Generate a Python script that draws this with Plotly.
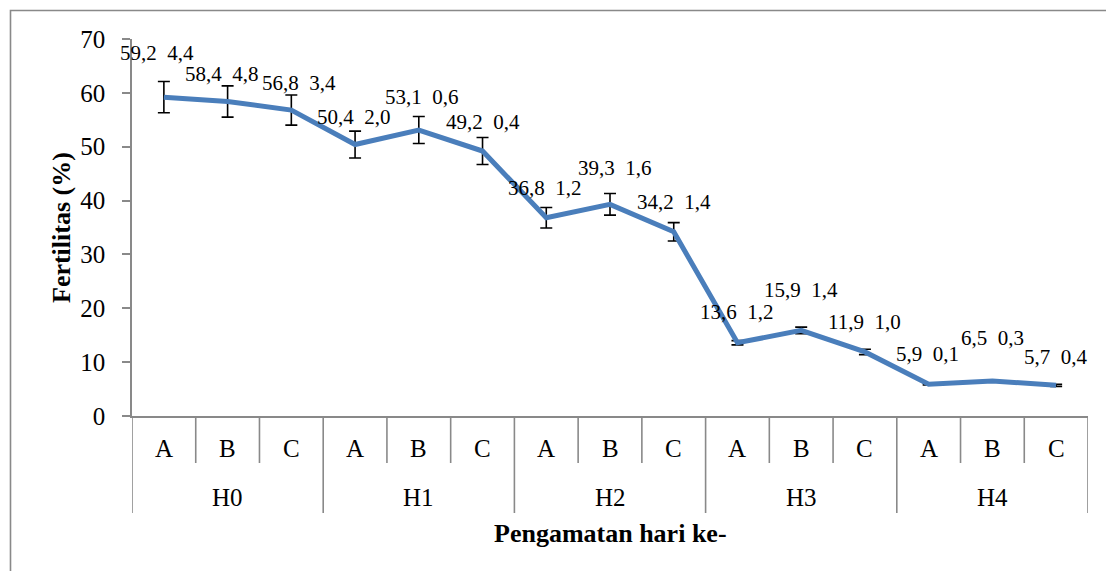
import plotly.graph_objects as go

# ---- data ----
groups = ["H0", "H1", "H2", "H3", "H4"]
subcats = ["A", "B", "C"]
fertilitas = [59.2, 58.4, 56.8, 50.4, 53.1, 49.2, 36.8, 39.3, 34.2, 13.6, 15.9, 11.9, 5.9, 6.5, 5.7]
sd_labels = [4.4, 4.8, 3.4, 2.0, 0.6, 0.4, 1.2, 1.6, 1.4, 1.2, 1.4, 1.0, 0.1, 0.3, 0.4]
err_drawn = [2.9, 2.9, 2.8, 2.5, 2.5, 2.5, 1.9, 2.0, 1.7, 0.4, 0.6, 0.5, 0.15, 0.2, 0.2]

# label offsets (pixels) relative to each point
lab_dx = [-7, -6, 8, -1, 3, 0, -1, 5, 0, 0, 0, 0, -1, 0, 0]
lab_dy = [44, 27, 27, 28, 33, 29, 30, 36, 30, 31, 40, 30, 30, 43, 28]

FONT = "Liberation Serif, Times New Roman, serif"
GRAY = "#898989"
BLUE = "#4A7EBB"

n = len(fertilitas)
xs = list(range(n))

fig = go.Figure()
fig.add_trace(go.Scatter(
    x=xs, y=fertilitas, mode="lines",
    line=dict(color=BLUE, width=5),
    error_y=dict(type="data", array=err_drawn, visible=True,
                 color="black", thickness=1.6, width=6),
    showlegend=False, hoverinfo="skip",
))

def fmt(v):
    return f"{v:.1f}".replace(".", ",")

annotations = []
for i in range(n):
    annotations.append(dict(
        x=xs[i], y=fertilitas[i], xref="x", yref="y",
        text=fmt(fertilitas[i]) + "\u00a0\u00a0" + fmt(sd_labels[i]),
        showarrow=False, xshift=lab_dx[i], yshift=lab_dy[i],
        font=dict(family=FONT, size=21, color="black"),
        xanchor="center", yanchor="middle",
    ))

# plot area geometry (window pixels): top 39, bottom 416, left 132, right 1088
PH = 416 - 39
PW = 1088 - 132
def py(pix):
    return (416 - pix) / PH

shapes = []
sub_labels = [subcats[i % 3] for i in range(n)]
for i in range(n):
    annotations.append(dict(
        x=xs[i], y=py(448), xref="x", yref="paper", text=sub_labels[i],
        showarrow=False, font=dict(family=FONT, size=25, color="black"),
        xanchor="center", yanchor="middle",
    ))
for g, name in enumerate(groups):
    annotations.append(dict(
        x=3 * g + 1, y=py(497), xref="x", yref="paper", text=name,
        showarrow=False, font=dict(family=FONT, size=25, color="black"),
        xanchor="center", yanchor="middle",
    ))

for b in range(n + 1):
    is_group = (b % 3 == 0)
    shapes.append(dict(
        type="line", xref="x", yref="paper",
        x0=b - 0.5, x1=b - 0.5, y0=0, y1=py(513) if is_group else py(463),
        line=dict(color=GRAY, width=1.6),
    ))

annotations.append(dict(
    x=0.5, y=py(533), xref="paper", yref="paper",
    text="<b>Pengamatan hari ke-</b>", showarrow=False,
    font=dict(family=FONT, size=26, color="black"),
    xanchor="center", yanchor="middle",
))
annotations.append(dict(
    x=(61 - 132) / PW, y=py(228), xref="paper", yref="paper",
    text="<b>Fertilitas (%)</b>", showarrow=False, textangle=-90,
    font=dict(family=FONT, size=26, color="black"),
    xanchor="center", yanchor="middle",
))

# outer chart border
shapes.append(dict(
    type="rect", xref="paper", yref="paper",
    x0=(10.5 - 132) / PW, x1=1.3, y0=-1.0, y1=py(10.5),
    line=dict(color=GRAY, width=1.6), fillcolor="rgba(0,0,0,0)",
))

# page body has an 8px margin, so the figure starts 8px in from the top-left
OFF = 8
fig.update_layout(
    width=1114 - OFF, height=571 - OFF,
    margin=dict(l=132 - OFF, r=1114 - 1088, t=39 - OFF, b=571 - 416),
    paper_bgcolor="white", plot_bgcolor="white",
    xaxis=dict(range=[-0.5, n - 0.5], showticklabels=False, ticks="",
               showgrid=False, zeroline=False, showline=True,
               linecolor=GRAY, linewidth=1.6, fixedrange=True),
    yaxis=dict(range=[0, 70], dtick=10, ticks="outside", ticklen=8,
               tickcolor=GRAY, tickwidth=1.6, showgrid=False, zeroline=False,
               showline=True, linecolor=GRAY, linewidth=1.6,
               tickfont=dict(family=FONT, size=25, color="black"),
               ticklabelstandoff=12, fixedrange=True),
    annotations=annotations, shapes=shapes,
    font=dict(family=FONT),
)

fig.write_html("out.html")
